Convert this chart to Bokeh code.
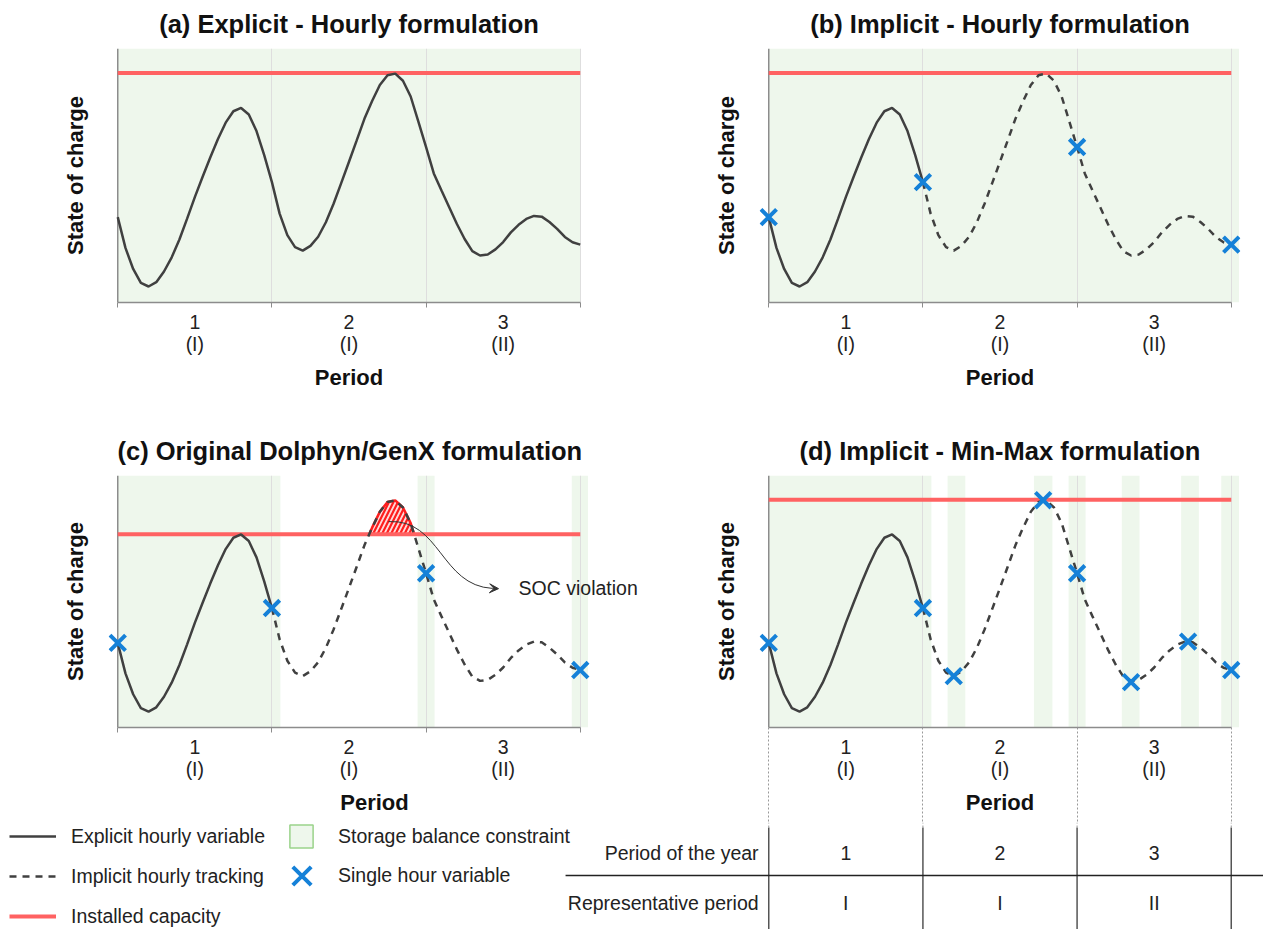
import numpy as np
from bokeh.plotting import figure
from bokeh.layouts import column, row
from bokeh.models import Range1d, FixedTicker, Span, Label, Legend, LegendItem, Arrow, VeeHead
from bokeh.core.properties import value
from bokeh.embed import file_html
from bokeh.resources import INLINE

# ---------------- data ----------------
hour_t = [0.00, 0.05, 0.10, 0.15, 0.20, 0.25, 0.30, 0.35, 0.40, 0.45,
          0.50, 0.55, 0.60, 0.65, 0.70, 0.75, 0.80, 0.85, 0.90, 0.95,
          1.00, 1.05, 1.10, 1.15, 1.20, 1.25, 1.30, 1.35, 1.40, 1.45,
          1.50, 1.55, 1.60, 1.65, 1.70, 1.75, 1.80, 1.85, 1.90, 1.95,
          2.00, 2.05, 2.10, 2.15, 2.20, 2.25, 2.30, 2.35, 2.40, 2.45,
          2.50, 2.55, 2.60, 2.65, 2.70, 2.75, 2.80, 2.85, 2.90, 2.95, 3.00]
soc = [33.6, 21.5, 13.2, 7.7, 6.3, 8.0, 12.2, 17.8, 24.8, 33.0,
       41.5, 49.4, 57.1, 64.4, 70.8, 75.3, 76.6, 74.0, 67.5, 58.0,
       47.4, 35.0, 26.5, 21.8, 20.4, 22.3, 25.9, 31.6, 38.9, 47.1,
       55.4, 63.8, 72.3, 79.3, 85.6, 89.5, 90.1, 87.3, 81.1, 71.2,
       61.2, 50.8, 44.1, 37.5, 30.9, 25.0, 20.2, 18.5, 18.9, 20.9,
       23.8, 27.6, 30.6, 32.9, 34.1, 33.8, 31.7, 29.0, 25.8, 23.7, 22.8]

period_labels = ["1", "2", "3"]
rep_labels = ["I", "I", "II"]
table_rows = ["Period of the year", "Representative period"]

titles = ["(a) Explicit - Hourly formulation",
          "(b) Implicit - Hourly formulation",
          "(c) Original Dolphyn/GenX formulation",
          "(d) Implicit - Min-Max formulation"]
capacity = [90.4, 90.4, 76.7, 90.4]

single_t = [[], [0, 1, 2, 3], [0, 1, 2, 3], [0, 1, 1.2, 1.78, 2, 2.35, 2.72, 3]]
single_v = [[], [33.6, 47.4, 61.2, 22.8], [33.6, 47.4, 61.2, 22.8],
            [33.6, 47.4, 20.4, 90.2, 61.2, 18.0, 34.1, 22.8]]

band_start = [[0.0], [0.0], [0.0, 1.945, 2.945],
              [0.0, 1.16, 1.72, 1.945, 2.29, 2.675, 2.935]]
band_end = [[3.0], [3.05], [1.055, 2.055, 3.05],
            [1.055, 1.275, 1.84, 2.055, 2.405, 2.79, 3.05]]

legend_lines = ["Explicit hourly variable", "Implicit hourly tracking", "Installed capacity"]
legend_marks = ["Storage balance constraint", "Single hour variable"]
annotation_text = "SOC violation"

# ---------------- style ----------------
FONT = "Liberation Sans"
TS = "19.5px"
CURVE = "#404040"
RED = "#ff6262"
BLUE = "#1581d8"
GREEN = "#eef7ec"
AX = "#8c8c8c"
TXT = "#222222"
FW = 481
XR = (-0.06, 3.06)
PX = FW / (XR[1] - XR[0])

n_per = len(period_labels)
bounds_t = list(range(n_per + 1))
centers = [i + 0.5 for i in range(n_per)]
t_arr = np.array(hour_t)
v_arr = np.array(soc)


def make_panel(i, col, frame_h, top, bottom, tick_len, tick_dash, tick_color, extra_right=0):
    left = [108, 119][col]
    right = [51, 23][col] - extra_right
    p = figure(frame_width=FW + extra_right, frame_height=frame_h,
               x_range=Range1d(XR[0], XR[1] + extra_right / PX), y_range=Range1d(0, 100),
               output_backend="svg", toolbar_location=None,
               min_border_left=left, min_border_right=right,
               min_border_top=top, min_border_bottom=bottom)
    p.outline_line_color = None
    p.background_fill_color = "white"
    p.title.text = titles[i]
    p.title.text_font = FONT
    p.title.text_font_size = "25.5px"
    p.title.text_font_style = "bold"
    p.title.text_color = "#111111"
    p.title.vertical_align = "top"
    p.title.standoff = 17
    if extra_right:
        p.title.align = "left"
        p.title.offset = 9
    else:
        p.title.align = "center"

    p.ygrid.visible = False
    p.xgrid.ticker = FixedTicker(ticks=bounds_t[1:])
    p.xgrid.grid_line_color = "#dedede"
    p.xgrid.grid_line_width = 1

    xa = p.xaxis[0]
    xa.ticker = FixedTicker(ticks=centers, minor_ticks=bounds_t)
    xa.major_label_overrides = {c: f"{a}\n({b})" for c, a, b in zip(centers, period_labels, rep_labels)}
    xa.major_tick_out = 0
    xa.major_tick_in = 0
    xa.minor_tick_out = 0
    xa.minor_tick_in = -tick_len
    xa.minor_tick_line_color = tick_color
    xa.minor_tick_line_width = 1
    xa.minor_tick_line_dash = tick_dash
    xa.axis_line_color = AX
    xa.axis_line_width = 1.5
    xa.bounds = (bounds_t[0], bounds_t[-1])
    xa.major_label_text_font = FONT
    xa.major_label_text_font_size = TS
    xa.major_label_text_color = TXT
    xa.major_label_text_line_height = 1.04
    xa.major_label_standoff = 8
    xa.axis_label = "Period"
    xa.axis_label_text_font = FONT
    xa.axis_label_text_font_size = "22px"
    xa.axis_label_text_font_style = "bold"
    xa.axis_label_text_color = "#111111"
    xa.axis_label_standoff = 7

    ya = p.yaxis[0]
    ya.ticker = FixedTicker(ticks=[])
    ya.axis_line_color = None
    ya.major_tick_out = 0
    ya.minor_tick_out = 0
    ya.axis_label = "State of charge"
    ya.axis_label_text_font = FONT
    ya.axis_label_text_font_size = "22px"
    ya.axis_label_text_font_style = "bold"
    ya.axis_label_text_color = "#111111"
    ya.axis_label_standoff = 21

    # storage balance constraint bands
    p.quad(left=band_start[i], right=band_end[i], bottom=0, top=100,
           fill_color=GREEN, line_color=None, level="image")
    p.add_layout(Span(location=bounds_t[0], dimension="height", line_color=AX,
                      line_width=1.5, level="underlay"))

    cap = capacity[i]
    # SOC violation (hatched)
    if i == 2:
        idx = np.where(v_arr > cap)[0]
        i0, i1 = idx[0], idx[-1]
        tl = t_arr[i0 - 1] + (cap - v_arr[i0 - 1]) * (t_arr[i0] - t_arr[i0 - 1]) / (v_arr[i0] - v_arr[i0 - 1])
        tr = t_arr[i1] + (cap - v_arr[i1]) * (t_arr[i1 + 1] - t_arr[i1]) / (v_arr[i1 + 1] - v_arr[i1])
        hx = [tl] + list(t_arr[i0:i1 + 1]) + [tr]
        hy = [cap] + list(v_arr[i0:i1 + 1]) + [cap]
        p.varea(x=hx, y1=cap, y2=hy, fill_color="#ffd9d9",
                hatch_pattern="/", hatch_color="#ff1e1e", hatch_weight=2.2, hatch_scale=9)
        p.line(hx, hy, line_color="#ff1e1e", line_width=2.5)

    p.line([bounds_t[0], bounds_t[-1]], [cap, cap], line_color=RED, line_width=4)

    if i == 0:
        p.line(hour_t, soc, line_color=CURVE, line_width=2.5)
    else:
        m1 = t_arr <= 1.0
        m2 = t_arr >= 1.0
        p.line(t_arr[m1], v_arr[m1], line_color=CURVE, line_width=2.5)
        p.line(t_arr[m2], v_arr[m2], line_color=CURVE, line_width=2.5, line_dash="7 6")

    if single_t[i]:
        p.scatter(single_t[i], single_v[i], marker="x", size=22,
                  line_color=BLUE, line_width=4)

    if i == 2:
        arrow_path = [(1.756, 81.7), (2.094, 82.9), (2.094, 56.3), (2.43, 55.2)]
        (a0, b0), (a1, b1), (a2, b2), (a3, b3) = arrow_path
        p.bezier(x0=[a0], y0=[b0], cx0=[a1], cy0=[b1], cx1=[a2], cy1=[b2], x1=[a3], y1=[b3],
                 line_color="#333333", line_width=1)
        p.add_layout(Arrow(end=VeeHead(size=9, fill_color="#333333", line_color="#333333"),
                           x_start=a3, y_start=b3, x_end=a3 + 0.04, y_end=b3 - 0.1,
                           line_color="#333333", line_width=1))
        p.add_layout(Label(x=2.6, y=55.5, text=annotation_text, text_baseline="middle",
                           text_font=FONT, text_font_size=TS, text_color=TXT))
    return p


pa = make_panel(0, 0, 254, 48, 125, 5, "solid", AX)
pb = make_panel(1, 1, 254, 48, 125, 5, "solid", AX)
pc = make_panel(2, 0, 252, 48, 95, 5, "solid", AX, extra_right=51)
pd = make_panel(3, 1, 252, 48, 95, 95, "2 2", "#999999")

# ---------------- bottom: legend and table ----------------
W3, H3 = 1263, 107
t0_px = 640 + 119 + 0.06 * PX  # page x of period 0 in panel (d)
x_start = -t0_px / PX
x_end = x_start + W3 / PX
p3 = figure(width=W3, height=H3, x_range=Range1d(x_start, x_end), y_range=Range1d(-0.54, 1.6),
            output_backend="svg", toolbar_location=None, min_border=0,
            x_axis_location=None, y_axis_location=None)
p3.outline_line_color = None
p3.grid.visible = False

p3.segment(x0=bounds_t, y0=[-0.54] * len(bounds_t), x1=bounds_t, y1=[1.5] * len(bounds_t),
           line_color="#555555", line_width=1.5)
p3.segment(x0=bounds_t, y0=[1.5] * len(bounds_t), x1=bounds_t, y1=[1.6] * len(bounds_t),
           line_color="#999999", line_width=1, line_dash="2 2")
p3.segment(x0=[-1.318], y0=[0.54], x1=[x_end], y1=[0.54], line_color="#222222", line_width=1.3)
p3.text(x=centers, y=[1] * n_per, text=period_labels, text_align="center", text_baseline="middle",
        text_font=value(FONT), text_font_size=TS, text_color=TXT)
p3.text(x=centers, y=[0] * n_per, text=rep_labels, text_align="center", text_baseline="middle",
        text_font=value(FONT), text_font_size=TS, text_color=TXT)
p3.text(x=[-0.066, -0.066], y=[1, 0], text=table_rows, text_align="right", text_baseline="middle",
        text_font=value(FONT), text_font_size=TS, text_color=TXT)

# legend-only renderers (a single undefined point, never drawn in the frame)
nan = [float("nan")]
r_exp = p3.line(nan, nan, line_color=CURVE, line_width=2.5)
r_imp = p3.line(nan, nan, line_color=CURVE, line_width=2.5, line_dash="7 6")
r_cap = p3.line(nan, nan, line_color=RED, line_width=4)
r_sq = p3.scatter(nan, nan, marker="square", fill_color=GREEN, line_color="#9ad38a", line_width=1.5)
r_x = p3.scatter(nan, nan, marker="x", line_color=BLUE, line_width=4)

common = dict(padding=0, margin=0, border_line_color=None, background_fill_alpha=0,
              label_text_font=FONT, label_text_font_size=TS, label_text_color=TXT,
              spacing=0)
leg1 = Legend(items=[LegendItem(label=legend_lines[0], renderers=[r_exp]),
                     LegendItem(label=legend_lines[1], renderers=[r_imp]),
                     LegendItem(label=legend_lines[2], renderers=[r_cap])],
              location=(9, -7), glyph_width=47, glyph_height=40, label_standoff=15, **common)
leg2 = Legend(items=[LegendItem(label=legend_marks[0], renderers=[r_sq])],
              location=(272, 64), glyph_width=58, glyph_height=58, label_standoff=8, **common)
leg3 = Legend(items=[LegendItem(label=legend_marks[1], renderers=[r_x])],
              location=(269, 21), glyph_width=65, glyph_height=65, label_standoff=4, **common)
p3.add_layout(leg1)
p3.add_layout(leg2)
p3.add_layout(leg3)

layout = column(row(pa, pb), row(pc, pd), p3)
open("out.html", "w").write(file_html(layout, INLINE))
